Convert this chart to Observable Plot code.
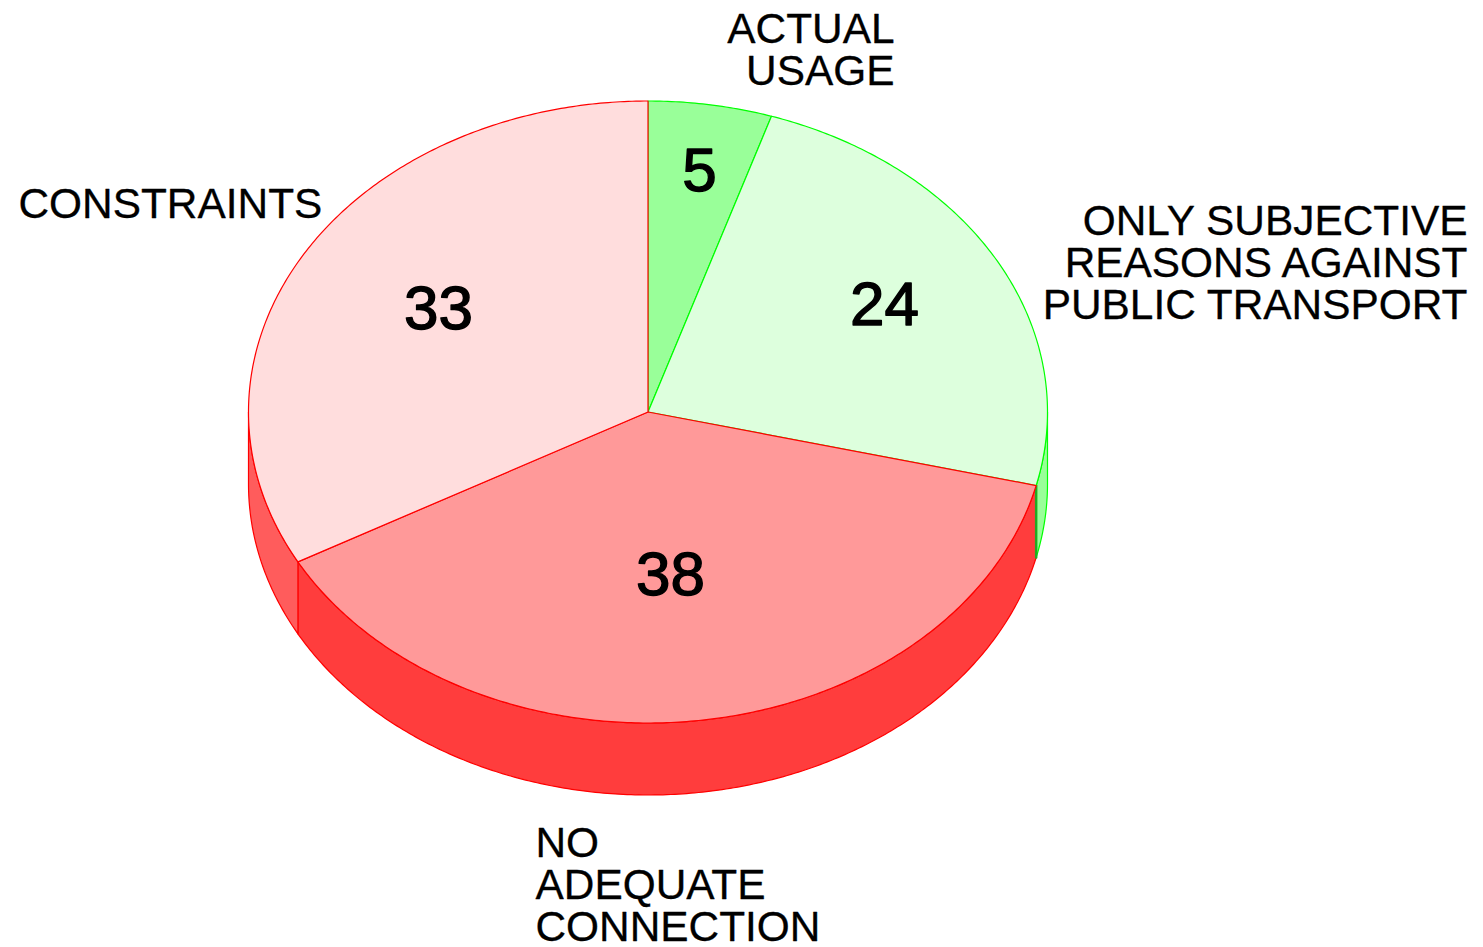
<!DOCTYPE html>
<html>
<head>
<meta charset="utf-8">
<script src="https://cdn.jsdelivr.net/npm/d3@7"></script>
<script src="https://cdn.jsdelivr.net/npm/@observablehq/plot@0.6"></script>
<style>html,body{margin:0;padding:0;background:#fff;overflow:hidden}svg{display:block}</style>
</head>
<body>
<div id="chart"></div>
<script>
const categories = ["ACTUAL USAGE", "ONLY SUBJECTIVE REASONS AGAINST PUBLIC TRANSPORT", "NO ADEQUATE CONNECTION", "CONSTRAINTS"];
const values = [5, 23.8, 38.2, 33];
const topColors = ["#99ff99", "#ddffdd", "#ff9999", "#ffdddd"];
const sideColors = ["#33dd33", "#99ff99", "#ff3d3d", "#ff5c5c"];
const strokeColors = ["#00ff00", "#00ff00", "#ff0000", "#ff0000"];
const labelTexts = ["ACTUAL\nUSAGE", "ONLY SUBJECTIVE\nREASONS AGAINST\nPUBLIC TRANSPORT", "NO\nADEQUATE\nCONNECTION", "CONSTRAINTS"];
const labelX = [894, 1467, 535, 18];
const labelY = [50, 263, 885, 204];
const labelAnchor = ["end", "end", "start", "start"];
const valueX = [699, 884, 670, 438];
const valueY = [171, 305, 575, 309];

const cx = 647.5, cy = 411.5, rx = 399.5, ry = 311, depth = 72;
const total = d3.sum(values);
const pt = (a, dz = 0) => [cx + rx * Math.sin(a), cy - ry * Math.cos(a) + dz];
const arcPts = (a0, a1, dz = 0) => {
  const n = Math.max(2, Math.ceil(Math.abs(a1 - a0) / 0.01));
  return d3.range(n + 1).map(i => pt(a0 + (a1 - a0) * i / n, dz));
};

let acc = 0;
const slices = values.map((v, i) => {
  const a0 = acc / total * 2 * Math.PI;
  acc += v;
  const a1 = acc / total * 2 * Math.PI;
  return {i, a0, a1};
});

const toRows = (pts, key, fill, stroke) => pts.map(([x, y]) => ({x, y, key, fill, stroke}));
const topRows = [], sideRows = [];
for (const {i, a0, a1} of slices) {
  topRows.push(...toRows([[cx, cy], ...arcPts(a0, a1), [cx, cy]], "t" + i, topColors[i], strokeColors[i]));
  // visible wall: the part of the slice's rim on the front half (PI/2 .. 3PI/2)
  const s0 = Math.max(a0, Math.PI / 2), s1 = Math.min(a1, 3 * Math.PI / 2);
  if (s1 > s0) {
    const wall = [...arcPts(s0, s1), ...arcPts(s1, s0, depth)];
    sideRows.push(...toRows([...wall, wall[0]], "s" + i, sideColors[i], strokeColors[i]));
  }
}
// the seam where the green wall meets the red wall
const seamRows = toRows([pt(slices[1].a1), pt(slices[1].a1, depth)], "seam", "none", "#22aa22");
const labelRows = labelTexts.map((text, i) => ({text, x: labelX[i], y: labelY[i], anchor: labelAnchor[i]}));
const valueRows = values.map((v, i) => ({text: d3.format(".0f")(v), x: valueX[i], y: valueY[i]}));

const polygon = rows => Plot.line(rows, {
  x: "x", y: "y", z: "key", fill: "fill", stroke: "stroke", strokeWidth: 1.2,
  curve: "linear", strokeLinejoin: "round"
});
const labelMark = anchor => Plot.text(labelRows.filter(d => d.anchor === anchor), {
  x: "x", y: "y", text: "text", textAnchor: anchor, lineHeight: 1, fontSize: 42.4, fill: "#000",
  stroke: "#000", strokeWidth: 0.3
});

const plot = Plot.plot({
  width: 1483, height: 947, margin: 0,
  style: {fontFamily: "'Liberation Sans', Arial, sans-serif", background: "#fff"},
  x: {domain: [0, 1483], range: [0, 1483], axis: null},
  y: {domain: [0, 947], range: [0, 947], axis: null},
  color: {type: "identity"},
  marks: [
    polygon(sideRows),
    Plot.line(seamRows, {x: "x", y: "y", stroke: "stroke", strokeWidth: 2.5}),
    polygon(topRows),
    labelMark("start"),
    labelMark("end"),
    Plot.text(valueRows, {x: "x", y: "y", text: "text", fontSize: 62, fill: "#000", stroke: "#000", strokeWidth: 1.4})
  ]
});
document.getElementById("chart").appendChild(plot);
</script>
</body>
</html>
